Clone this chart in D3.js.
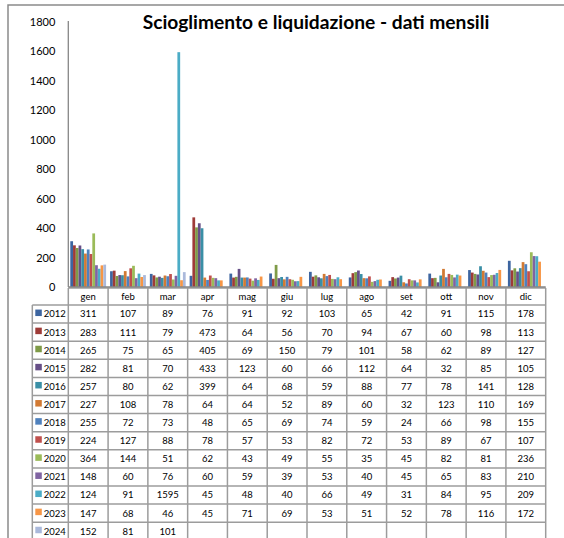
<!DOCTYPE html>
<html>
<head>
<meta charset="utf-8">
<script src="https://cdn.jsdelivr.net/npm/d3@7"></script>
<style>
  html, body { margin: 0; padding: 0; background: #fff; }
  svg { display: block; font-family: Lato, "Open Sans", sans-serif; }
</style>
</head>
<body>
<svg id="chart" width="564" height="538"></svg>
<script>
const months = ['gen', 'feb', 'mar', 'apr', 'mag', 'giu', 'lug', 'ago', 'set', 'ott', 'nov', 'dic'];
const years = ['2012', '2013', '2014', '2015', '2016', '2017', '2018', '2019', '2020', '2021', '2022', '2023', '2024'];
const yTicks = [0, 200, 400, 600, 800, 1000, 1200, 1400, 1600, 1800];

const v2012 = [311, 107, 89, 76, 91, 92, 103, 65, 42, 91, 115, 178];
const v2013 = [283, 111, 79, 473, 64, 56, 70, 94, 67, 60, 98, 113];
const v2014 = [265, 75, 65, 405, 69, 150, 79, 101, 58, 62, 89, 127];
const v2015 = [282, 81, 70, 433, 123, 60, 66, 112, 64, 32, 85, 105];
const v2016 = [257, 80, 62, 399, 64, 68, 59, 88, 77, 78, 141, 128];
const v2017 = [227, 108, 78, 64, 64, 52, 89, 60, 32, 123, 110, 169];
const v2018 = [255, 72, 73, 48, 65, 69, 74, 59, 24, 66, 98, 155];
const v2019 = [224, 127, 88, 78, 57, 53, 82, 72, 53, 89, 67, 107];
const v2020 = [364, 144, 51, 62, 43, 49, 55, 35, 45, 82, 81, 236];
const v2021 = [148, 60, 76, 60, 59, 39, 53, 40, 45, 65, 83, 210];
const v2022 = [124, 91, 1595, 45, 48, 40, 66, 49, 31, 84, 95, 209];
const v2023 = [147, 68, 46, 45, 71, 69, 53, 51, 52, 78, 116, 172];
const v2024 = [152, 81, 101];

const values = [v2012, v2013, v2014, v2015, v2016, v2017, v2018, v2019, v2020, v2021, v2022, v2023, v2024];

const colors = ['#3d65a0', '#9e3b38', '#7f9b48', '#664f87', '#3a8fa6', '#d27a33',
  '#4f81bd', '#c0504d', '#9bbb59', '#8064a2', '#4bacc6', '#f79646', '#aab9db'];

const svg = d3.select('#chart');
const plotLeft = 68.3, plotRight = 545.7, plotTop = 22, base = 287;
const headerTop = 288, headerH = 17, rowH = 18.1, legendLeft = 32.3;
const gridColor = '#9c9c9c';

// outer chart border (top + left visible)
svg.append('path')
  .attr('d', `M8,538V5H564`)
  .attr('fill', 'none').attr('stroke', '#8a8a8a').attr('stroke-width', 1.5);

const x = d3.scaleBand().domain(months).range([plotLeft, plotRight]).paddingInner(0.1).paddingOuter(0.05);
const xs = d3.scaleBand().domain(years).range([0, x.bandwidth()]);
const y = d3.scaleLinear().domain([0, 1800]).range([base, plotTop]);

// bars
const groups = svg.append('g').selectAll('g').data(months).join('g')
  .attr('transform', d => `translate(${x(d)},0)`);
groups.selectAll('rect')
  .data((m, i) => years.map((yr, k) => ({ yr, k, v: values[k][i] })).filter(d => d.v != null))
  .join('rect')
  .attr('x', d => xs(d.yr))
  .attr('width', xs.bandwidth())
  .attr('y', d => y(d.v))
  .attr('height', d => base - y(d.v))
  .attr('fill', d => colors[d.k]);

// y axis
const yAxis = svg.append('g').attr('transform', `translate(${plotLeft},0)`)
  .call(d3.axisLeft(y).tickValues(yTicks).tickSize(0).tickPadding(13).tickFormat(d3.format('d')));
yAxis.select('.domain').attr('stroke', '#868686').attr('stroke-width', 1.3).attr('d', `M0,${plotTop - 1}V${base}`);
yAxis.selectAll('text').attr('font-size', 11).attr('fill', '#000').attr('font-family', 'Lato, sans-serif');

// title
const title = svg.append('text')
  .attr('x', 316).attr('y', 29)
  .attr('text-anchor', 'middle')
  .attr('font-weight', 'bold')
  .attr('font-size', 15)
  .text('Scioglimento e liquidazione - dati mensili');
const tw = title.node().getComputedTextLength();
title.attr('font-size', 15 * 347 / tw);

// data table
const table = svg.append('g');
const rowTop = k => headerTop + headerH + k * rowH;
const tableBottom = rowTop(years.length);

// header cells
table.selectAll('.hdr').data(months).join('text')
  .attr('class', 'hdr')
  .attr('x', d => x(d) + x.bandwidth() / 2)
  .attr('y', headerTop + headerH / 2 + 3.2)
  .attr('text-anchor', 'middle')
  .attr('font-size', 9.5)
  .text(d => d);

// value cells
years.forEach((yr, k) => {
  const row = table.append('g');
  row.selectAll('text').data(values[k]).join('text')
    .attr('x', (d, i) => x(months[i]) + x.bandwidth() / 2)
    .attr('y', rowTop(k) + rowH / 2 + 3.4)
    .attr('text-anchor', 'middle')
    .attr('font-size', 9.5)
    .text(d => d);
  row.append('rect')
    .attr('x', legendLeft + 3).attr('y', rowTop(k) + rowH / 2 - 4.5)
    .attr('width', 6.5).attr('height', 6.5)
    .attr('fill', colors[k]);
  row.append('text')
    .attr('x', legendLeft + 11.5).attr('y', rowTop(k) + rowH / 2 + 3.4)
    .attr('font-size', 9.5)
    .text(yr);
});

// grid lines
const step = x.step();
const hLines = [{ x1: plotLeft, y: headerTop }, { x1: legendLeft, y: headerTop + headerH }]
  .concat(years.map((yr, k) => ({ x1: legendLeft, y: rowTop(k + 1) })));
table.selectAll('.hl').data(hLines).join('line')
  .attr('x1', d => d.x1).attr('x2', plotRight)
  .attr('y1', d => d.y).attr('y2', d => d.y)
  .attr('stroke', gridColor).attr('stroke-width', 1.5);
const vLines = d3.range(months.length + 1).map(i => plotLeft + i * step);
table.selectAll('.vl').data(vLines).join('line')
  .attr('x1', d => d).attr('x2', d => d)
  .attr('y1', headerTop).attr('y2', tableBottom)
  .attr('stroke', gridColor).attr('stroke-width', 1.5);
table.append('line')
  .attr('x1', legendLeft).attr('x2', legendLeft)
  .attr('y1', headerTop + headerH).attr('y2', tableBottom)
  .attr('stroke', gridColor).attr('stroke-width', 1.5);

// x axis line
svg.append('line')
  .attr('x1', plotLeft).attr('x2', plotRight).attr('y1', base).attr('y2', base)
  .attr('stroke', '#868686').attr('stroke-width', 1.3);
</script>
</body>
</html>
